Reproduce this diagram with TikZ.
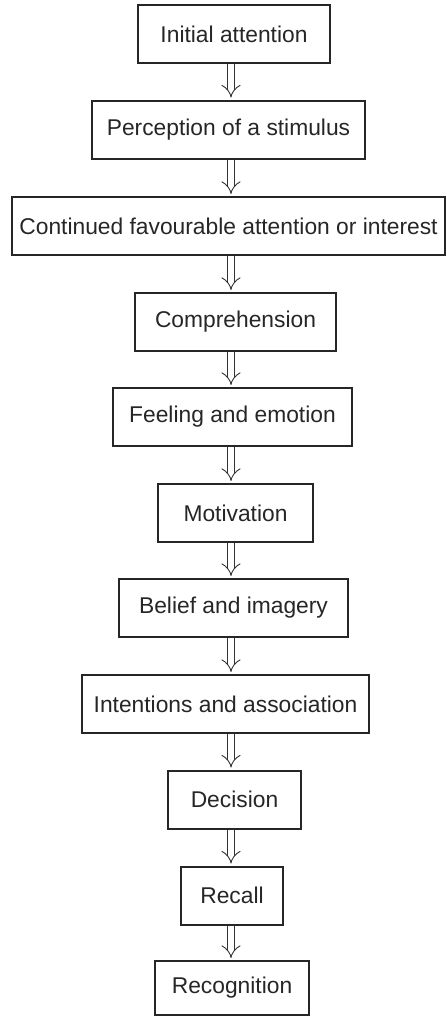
\documentclass[tikz,border=0pt]{standalone}
\usepackage{fontspec}
\setmainfont{Liberation Sans}
\usetikzlibrary{arrows.meta}
\tikzset{
	stage/.style={draw=black!85, line width=1pt, minimum height=29pt, inner sep=0pt, text=black!85, font=\fontsize{11.4}{14}\selectfont},
	flow/.style={draw=black!80, line width=0.45pt, double, double distance=3pt, -{Implies[length=5pt, width=10pt]}, shorten >=1pt}
}
\begin{document}
\begin{tikzpicture}[x=0.5pt, y=-0.5pt, line join=miter]
	% khung hinh (446 x 1017)
	\useasboundingbox (0,0) rectangle (446,1017);
	
	% --- Cac buoc ---
	\node[stage, minimum width=96pt] (init) at (234, 34) {Initial attention};
	\node[stage, minimum width=136.5pt] (perc) at (228.5, 129.5) {Perception of a stimulus};
	\node[stage, minimum width=216.5pt] (cont) at (228.5, 226) {Continued favourable attention or interest};
	\node[stage, minimum width=100.5pt] (comp) at (235.5, 322) {Comprehension};
	\node[stage, minimum width=119.5pt] (feel) at (232.5, 417) {Feeling and emotion};
	\node[stage, minimum width=77.5pt] (moti) at (235.5, 513) {Motivation};
	\node[stage, minimum width=114.5pt] (beli) at (233.5, 608) {Belief and imagery};
	\node[stage, minimum width=143.5pt] (inte) at (225.5, 704) {Intentions and association};
	\node[stage, minimum width=66.5pt] (deci) at (234.5, 799.5) {Decision};
	\node[stage, minimum width=51pt] (reca) at (232, 895.5) {Recall};
	\node[stage, minimum width=77pt, minimum height=27pt] (reco) at (232, 988) {Recognition};
	
	% --- Mui ten ---
	\coordinate (axis) at (231, 0);
	\foreach \a/\b in {init/perc, perc/cont, cont/comp, comp/feel, feel/moti, moti/beli, beli/inte, inte/deci, deci/reca, reca/reco}
		\draw[flow] (\a.south -| axis) -- (\b.north -| axis);
	
\end{tikzpicture}
\end{document}
